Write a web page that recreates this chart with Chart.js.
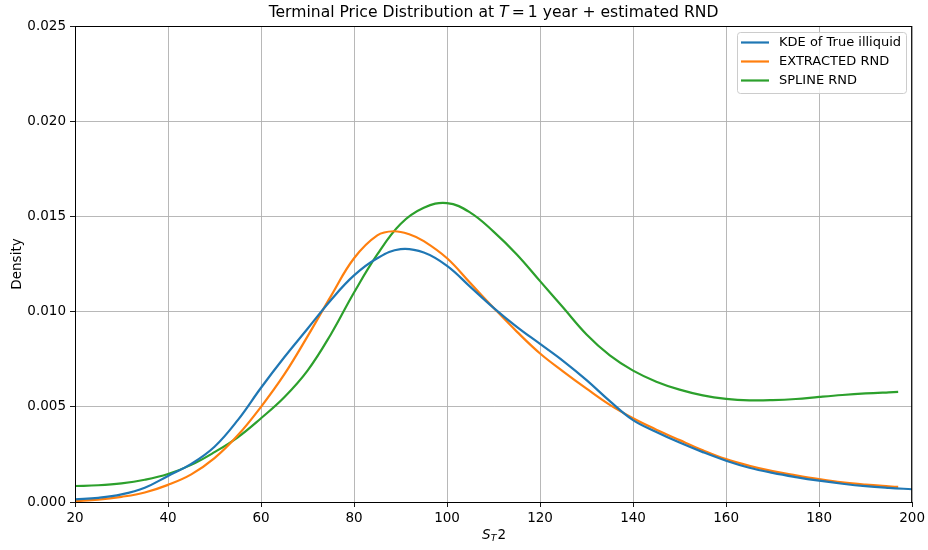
<!DOCTYPE html>
<html>
<head>
<meta charset="utf-8">
<script src="https://cdn.jsdelivr.net/npm/chart.js@4.4.0/dist/chart.umd.min.js"></script>
<style>
  html, body { margin: 0; padding: 0; background: #fff; }
  #wrap { width: 928px; height: 550px; position: relative; }
</style>
</head>
<body>
<div id="wrap"><canvas id="rndChart" width="928" height="550"></canvas></div>
<script>
// x grids of the three curves
var kdeX = [20, 25, 30, 35, 40, 45, 50, 55, 60, 65, 70, 75, 80, 85, 90, 95, 100, 105, 110, 115,
            120, 125, 130, 135, 140, 145, 150, 155, 160, 165, 170, 175, 180, 185, 190, 195, 200];
var extractedX = [20, 25, 30, 35, 40, 45, 50, 55, 60, 65, 70, 75, 80, 85, 88.5, 92, 95, 100, 105, 110, 115,
                  120, 125, 130, 135, 140, 145, 150, 155, 160, 165, 170, 175, 180, 185, 190, 195, 197];
var splineX = [20, 25, 30, 35, 40, 45, 50, 55, 60, 65, 70, 75, 80, 85, 90, 95, 100, 105, 110, 115,
               120, 125, 130, 135, 140, 145, 150, 155, 160, 165, 170, 175, 180, 185, 190, 195, 197];

var kdeY = [0.00014, 0.00022, 0.00040, 0.00075, 0.00137, 0.00200, 0.00290, 0.00430, 0.00600, 0.00760,
            0.00910, 0.01060, 0.01190, 0.01280, 0.01328, 0.01310, 0.01240, 0.01130, 0.01020, 0.00920,
            0.00830, 0.00740, 0.00640, 0.00530, 0.00430, 0.00368, 0.00312, 0.00262, 0.00217, 0.00180,
            0.00153, 0.00131, 0.00112, 0.00096, 0.00083, 0.00074, 0.00067];
var extractedY = [0.00005, 0.00012, 0.00027, 0.00050, 0.00090, 0.00145, 0.00230, 0.00350, 0.00500, 0.00670,
                  0.00870, 0.01080, 0.01280, 0.01400, 0.01422, 0.01405, 0.01370, 0.01280, 0.01150, 0.01020,
                  0.00895, 0.00780, 0.00685, 0.00595, 0.00510, 0.00440, 0.00380, 0.00325, 0.00272, 0.00225,
                  0.00190, 0.00162, 0.00140, 0.00120, 0.00103, 0.00091, 0.00082, 0.00079];
var splineY = [0.00084, 0.00088, 0.00098, 0.00117, 0.00147, 0.00195, 0.00262, 0.00340, 0.00440, 0.00550,
               0.00690, 0.00880, 0.01100, 0.01300, 0.01460, 0.01545, 0.01570, 0.01520, 0.01420,
               0.01300, 0.01160, 0.01020, 0.00880, 0.00770, 0.00690, 0.00632, 0.00590, 0.00560, 0.00542,
               0.00534, 0.00535, 0.00541, 0.00552, 0.00562, 0.00570, 0.00576, 0.00578];

var xTicks = [20, 40, 60, 80, 100, 120, 140, 160, 180, 200];
var yTicks = [0.000, 0.005, 0.010, 0.015, 0.020, 0.025];

var FONT = '"DejaVu Sans", sans-serif';

function pairs(xs, ys) {
    return xs.map(function (x, i) { return { x: x, y: ys[i] }; });
}

function lineSet(label, xs, ys, color) {
    return {
        label: label,
        data: pairs(xs, ys),
        borderColor: color,
        backgroundColor: color,
        borderWidth: 2.2,
        pointRadius: 0,
        fill: false,
        tension: 0.4
    };
}

// titles, frame and the in-plot legend
var decorations = {
    id: 'decorations',
    afterDraw: function (chart) {
        var ctx = chart.ctx;
        var a = chart.chartArea;
        var cx = (a.left + a.right) / 2;
        ctx.save();

        // frame (matplotlib spines)
        ctx.strokeStyle = '#000';
        ctx.lineWidth = 1;
        ctx.strokeRect(a.left + 0.5, a.top + 0.5, a.right - a.left - 1, a.bottom - a.top);

        ctx.fillStyle = '#000';
        ctx.textBaseline = 'middle';

        // title with italic T
        var parts = [
            ['15.6px ' + FONT, 'Terminal Price Distribution at '],
            ['italic 15.6px ' + FONT, 'T'],
            ['15.6px ' + FONT, '\u2009=\u20091 year + estimated RND']
        ];
        var total = 0;
        parts.forEach(function (p) { ctx.font = p[0]; total += ctx.measureText(p[1]).width; });
        var x = cx - total / 2;
        ctx.textAlign = 'left';
        parts.forEach(function (p) {
            ctx.font = p[0];
            ctx.fillText(p[1], x, 13);
            x += ctx.measureText(p[1]).width;
        });

        // x axis label S_T 2
        ctx.font = 'italic 13.5px ' + FONT;
        var wS = ctx.measureText('S').width;
        ctx.font = 'italic 9.5px ' + FONT;
        var wT = ctx.measureText('T').width;
        ctx.font = '13.5px ' + FONT;
        var w2 = ctx.measureText('2').width;
        x = cx - (wS + wT + w2) / 2;
        ctx.font = 'italic 13.5px ' + FONT;
        ctx.fillText('S', x, 535);
        ctx.font = 'italic 9.5px ' + FONT;
        ctx.fillText('T', x + wS, 539);
        ctx.font = '13.5px ' + FONT;
        ctx.fillText('2', x + wS + wT + 1, 535);

        // y axis label
        ctx.save();
        ctx.translate(17, (a.top + a.bottom) / 2);
        ctx.rotate(-Math.PI / 2);
        ctx.textAlign = 'center';
        ctx.font = '13.5px ' + FONT;
        ctx.fillText('Density', 0, 0);
        ctx.restore();

        // legend box
        var bx = 737.5, by = 32.5, bw = 169, bh = 61;
        ctx.fillStyle = 'rgba(255,255,255,0.8)';
        ctx.strokeStyle = '#cccccc';
        ctx.lineWidth = 1;
        ctx.beginPath();
        ctx.roundRect(bx, by, bw, bh, 3);
        ctx.fill();
        ctx.stroke();
        ctx.font = '13px ' + FONT;
        ctx.textAlign = 'left';
        chart.data.datasets.forEach(function (ds, i) {
            var ly = 42.5 + i * 19;
            ctx.strokeStyle = ds.borderColor;
            ctx.lineWidth = 2.2;
            ctx.beginPath();
            ctx.moveTo(741, ly);
            ctx.lineTo(769, ly);
            ctx.stroke();
            ctx.fillStyle = '#000';
            ctx.fillText(ds.label, 779, ly + 0.5);
        });

        ctx.restore();
    }
};

var ctx = document.getElementById('rndChart').getContext('2d');
var rndChart = new Chart(ctx, {
    type: 'line',
    data: {
        datasets: [
            lineSet('KDE of True illiquid', kdeX, kdeY, '#1f77b4'),
            lineSet('EXTRACTED RND', extractedX, extractedY, '#ff7f0e'),
            lineSet('SPLINE RND', splineX, splineY, '#2ca02c')
        ]
    },
    options: {
        responsive: false,
        animation: false,
        layout: { padding: { left: 0, right: 15, top: 26, bottom: 0 } },
        plugins: {
            legend: { display: false },
            title: { display: false },
            tooltip: { enabled: false }
        },
        scales: {
            x: {
                type: 'linear',
                min: xTicks[0],
                max: xTicks[xTicks.length - 1],
                afterBuildTicks: function (s) { s.ticks = xTicks.map(function (v) { return { value: v }; }); },
                afterFit: function (s) { s.height = 48; },
                ticks: {
                    color: '#000',
                    font: { family: FONT, size: 13.5 },
                    padding: 3,
                    maxRotation: 0,
                    callback: function (v) { return String(v); }
                },
                grid: { color: '#b0b0b0', lineWidth: 0.9, tickColor: '#000', tickLength: 5 },
                border: { color: '#000', width: 1 }
            },
            y: {
                type: 'linear',
                min: yTicks[0],
                max: yTicks[yTicks.length - 1],
                afterBuildTicks: function (s) { s.ticks = yTicks.map(function (v) { return { value: v }; }); },
                afterFit: function (s) { s.width = 75; },
                ticks: {
                    color: '#000',
                    font: { family: FONT, size: 13.5 },
                    padding: 4,
                    callback: function (v) { return Number(v).toFixed(3); }
                },
                grid: { color: '#b0b0b0', lineWidth: 0.9, tickColor: '#000', tickLength: 5 },
                border: { color: '#000', width: 1 }
            }
        }
    },
    plugins: [decorations]
});
</script>
</body>
</html>
